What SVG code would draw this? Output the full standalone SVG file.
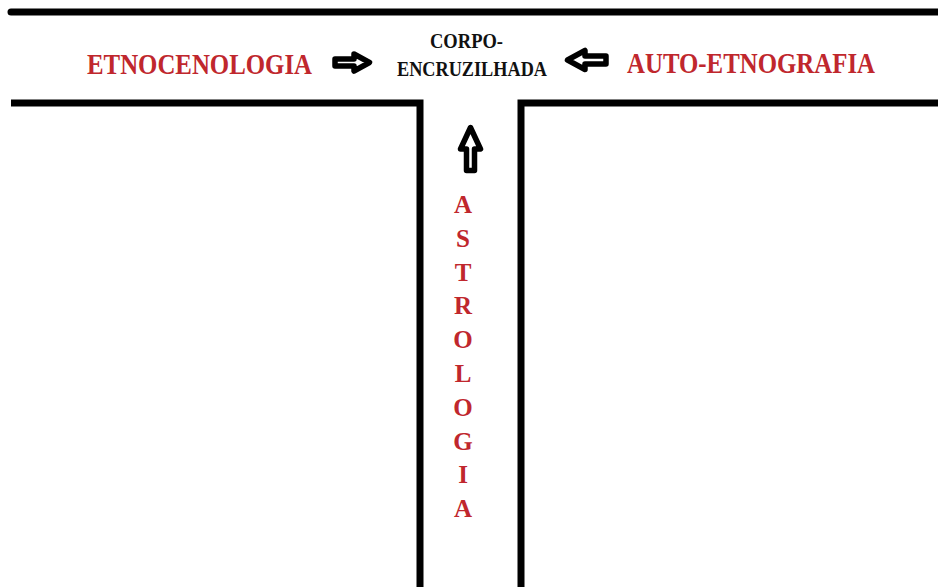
<svg xmlns="http://www.w3.org/2000/svg" width="938" height="587" viewBox="0 0 938 587">
  <style>
    .road { fill: none; stroke: #000; stroke-width: 7; }
    .red { font-family: "Liberation Serif", "Times New Roman", serif; font-weight: bold; fill: #c0272d; }
    .blk { font-family: "Liberation Serif", "Times New Roman", serif; font-weight: bold; fill: #111; }
    .arrow { fill: #fff; stroke: #000; stroke-width: 5.5; stroke-linejoin: round; }
  </style>
  <rect width="938" height="587" fill="#fff"/>
  <g id="roads">
    <path class="road" d="M11 12 H938" stroke-linecap="round"/>
    <path class="road" d="M11 103 H420 V587"/>
    <path class="road" d="M938 103 H521 V587"/>
  </g>
  <g id="etnocenologia">
    <text class="red" x="87" y="74" font-size="28.5" textLength="225" lengthAdjust="spacingAndGlyphs">ETNOCENOLOGIA</text>
  </g>
  <g id="corpo-encruzilhada">
    <text class="blk" x="430" y="48" font-size="21" textLength="73" lengthAdjust="spacingAndGlyphs">CORPO-</text>
    <text class="blk" x="397" y="76" font-size="21" textLength="150" lengthAdjust="spacingAndGlyphs">ENCRUZILHADA</text>
  </g>
  <g id="auto-etnografia">
    <text class="red" x="627" y="73" font-size="28.5" textLength="248" lengthAdjust="spacingAndGlyphs">AUTO-ETNOGRAFIA</text>
  </g>
  <g id="astrologia" class="red" font-size="25" text-anchor="middle">
    <text x="463" y="213">A</text>
    <text x="463" y="246.8">S</text>
    <text x="463" y="280.6">T</text>
    <text x="463" y="314.4">R</text>
    <text x="463" y="348.2">O</text>
    <text x="463" y="382">L</text>
    <text x="463" y="415.8">O</text>
    <text x="463" y="449.6">G</text>
    <text x="463" y="483.4">I</text>
    <text x="463" y="517.2">A</text>
  </g>
  <g id="connectors">
    <polygon class="arrow" points="335,59 354,59 354,54 369.5,62.5 354,71 354,66 335,66"/>
    <polygon class="arrow" points="567.5,60 585,50.5 585,56 606,56 606,64 585,64 585,69.5"/>
    <polygon class="arrow" points="470.5,127.5 480.5,149 474.5,149 474.5,170.5 466.5,170.5 466.5,149 460.5,149"/>
  </g>
</svg>
